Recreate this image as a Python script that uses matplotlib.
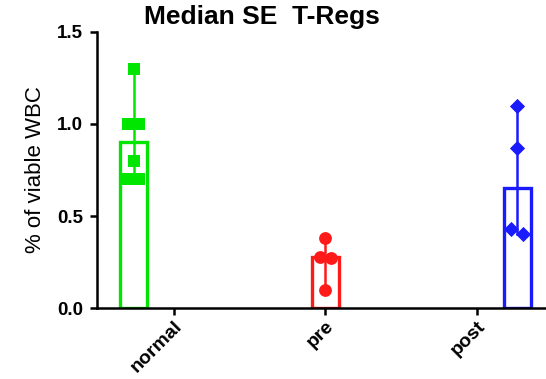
import numpy as np
import matplotlib.pyplot as plt

plt.rcParams['font.family'] = ['Liberation Sans', 'DejaVu Sans']

groups = ['normal', 'pre', 'post']
colors = ['#00e600', '#ff1a1a', '#1a1aff']
markers = ['s', 'o', 'D']
values = [
    [1.3, 1.0, 1.0, 0.8, 0.7, 0.7],
    [0.38, 0.28, 0.27, 0.10],
    [1.10, 0.87, 0.43, 0.40],
]
sizes = [85, 85, 60]

fig = plt.figure(figsize=(5.46, 3.79), dpi=100)
ax = fig.add_axes([0.178, 0.187, 0.822, 0.729])

bar_x = np.arange(len(groups))
for i, vals in enumerate(values):
    vals = np.array(vals)
    med = np.median(vals)
    ax.bar(bar_x[i], med, width=0.14, facecolor='white', edgecolor=colors[i],
           linewidth=2.4, zorder=2)
    ax.plot([bar_x[i], bar_x[i]], [vals.min(), vals.max()], color=colors[i],
            lw=1.8, zorder=3)
    # spread points that sit close together
    xs = np.full(len(vals), float(bar_x[i]))
    used = np.zeros(len(vals), bool)
    for j in range(len(vals)):
        if used[j]:
            continue
        idx = np.where(np.abs(vals - vals[j]) < 0.04)[0]
        used[idx] = True
        if len(idx) > 1:
            xs[idx] = bar_x[i] + np.linspace(-0.03, 0.03, len(idx))
    ax.scatter(xs, vals, marker=markers[i], s=sizes[i], color=colors[i], zorder=4,
               linewidths=0)

ax.set_xlim(-0.19, 2.15)
ax.set_ylim(0, 1.5)
ax.set_yticks([0, 0.5, 1.0, 1.5])
ax.set_yticklabels(['0.0', '0.5', '1.0', '1.5'], fontweight='bold', fontsize=13.5)
tick_pos = 1 + (bar_x - 1) * 0.79
ax.set_xticks(tick_pos)
ax.set_xticklabels(groups, rotation=45, ha='right', rotation_mode='anchor',
                   fontweight='bold', fontsize=14)
ax.set_ylabel('% of viable WBC', fontsize=16, labelpad=8)
fig.text(262 / 546, 1 - 17 / 379, 'Median SE  T-Regs', fontweight='bold',
         fontsize=19, ha='center', va='center')

for s in ['top', 'right']:
    ax.spines[s].set_visible(False)
for s in ['left', 'bottom']:
    ax.spines[s].set_linewidth(1.8)
ax.tick_params(width=1.8, length=5, direction='out')
ax.tick_params(axis='y', pad=5)
ax.tick_params(axis='x', pad=2)

fig.savefig('out.png', dpi=100)
